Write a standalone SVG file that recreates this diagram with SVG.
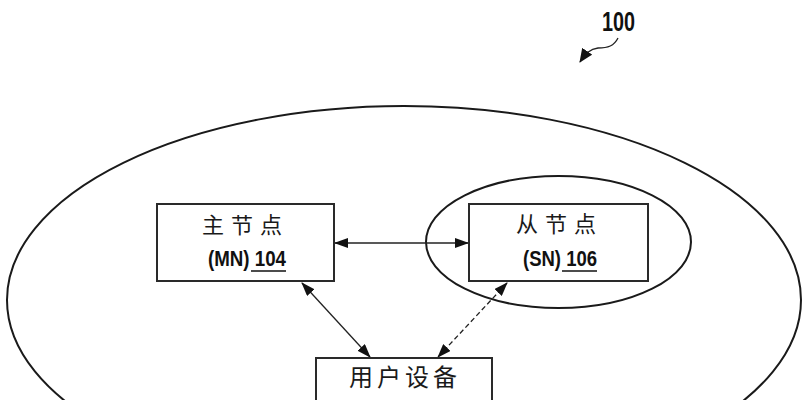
<svg xmlns="http://www.w3.org/2000/svg" width="808" height="400" viewBox="0 0 808 400">
<style>
.shape{fill:none;stroke:#1a1a1a;stroke-width:2}
.box{fill:#fff;stroke:#2a2a2a;stroke-width:2}
.cjk{font-family:"Noto Sans CJK SC","Noto Sans CJK JP",sans-serif;font-size:22px;fill:#1a1a1a}
.lbl{font-family:"Liberation Sans",Arial,sans-serif;font-weight:bold;font-size:22px;fill:#111}
.ul{stroke:#111;stroke-width:1.6}
.conn{fill:none;stroke:#222;stroke-width:1.3}
.dash{stroke-dasharray:5 3}
</style>
<defs>
<marker id="ah" markerUnits="userSpaceOnUse" markerWidth="14" markerHeight="10" refX="13" refY="5" orient="auto-start-reverse" viewBox="0 0 14 10">
<path d="M0,0 L14,5 L0,10 z" fill="#111"/>
</marker>
<marker id="ah2" markerUnits="userSpaceOnUse" markerWidth="14" markerHeight="12" refX="13" refY="6" orient="auto" viewBox="0 0 14 12">
<path d="M0,0 L14,6 L0,12 z" fill="#111"/>
</marker>
</defs>

<g id="ref100">
<text class="lbl" x="602" y="31" style="font-size:28px" textLength="33" lengthAdjust="spacingAndGlyphs">100</text>
<path class="conn" d="M618,38 C614,46 608,48 598,48 C590,49 586,53 580,62" marker-end="url(#ah2)" stroke-width="1.4"/>
</g>

<g id="network">
<ellipse class="shape" cx="404" cy="300" rx="397" ry="194"/>
</g>

<g id="sn-region">
<ellipse class="shape" cx="558.5" cy="242" rx="132.5" ry="66"/>
</g>

<g id="connectors">
<line class="conn" x1="335" y1="243" x2="468" y2="243" marker-start="url(#ah)" marker-end="url(#ah)"/>
<line class="conn" x1="302" y1="283" x2="370" y2="357" marker-start="url(#ah)" marker-end="url(#ah)"/>
<line class="conn dash" x1="507" y1="283" x2="438" y2="357" marker-start="url(#ah)" marker-end="url(#ah)"/>
</g>

<g id="mn">
<rect class="box" x="157" y="204" width="177" height="77"/>
<text class="cjk" x="202 231 260" y="233">主节点</text>
<text class="lbl" x="208" y="266" textLength="78" lengthAdjust="spacingAndGlyphs">(MN) 104</text>
<line class="ul" x1="251" y1="271" x2="286" y2="271"/>
</g>

<g id="sn">
<rect class="box" x="469" y="204" width="179" height="77"/>
<text class="cjk" x="516 545 574" y="232">从节点</text>
<text class="lbl" x="523" y="266" textLength="74" lengthAdjust="spacingAndGlyphs">(SN) 106</text>
<line class="ul" x1="562" y1="271" x2="597" y2="271"/>
</g>

<g id="ue">
<rect class="box" x="316" y="358" width="176" height="60"/>
<text class="cjk" x="349 377 405 433" y="386" style="font-size:24px">用户设备</text>
</g>
</svg>
